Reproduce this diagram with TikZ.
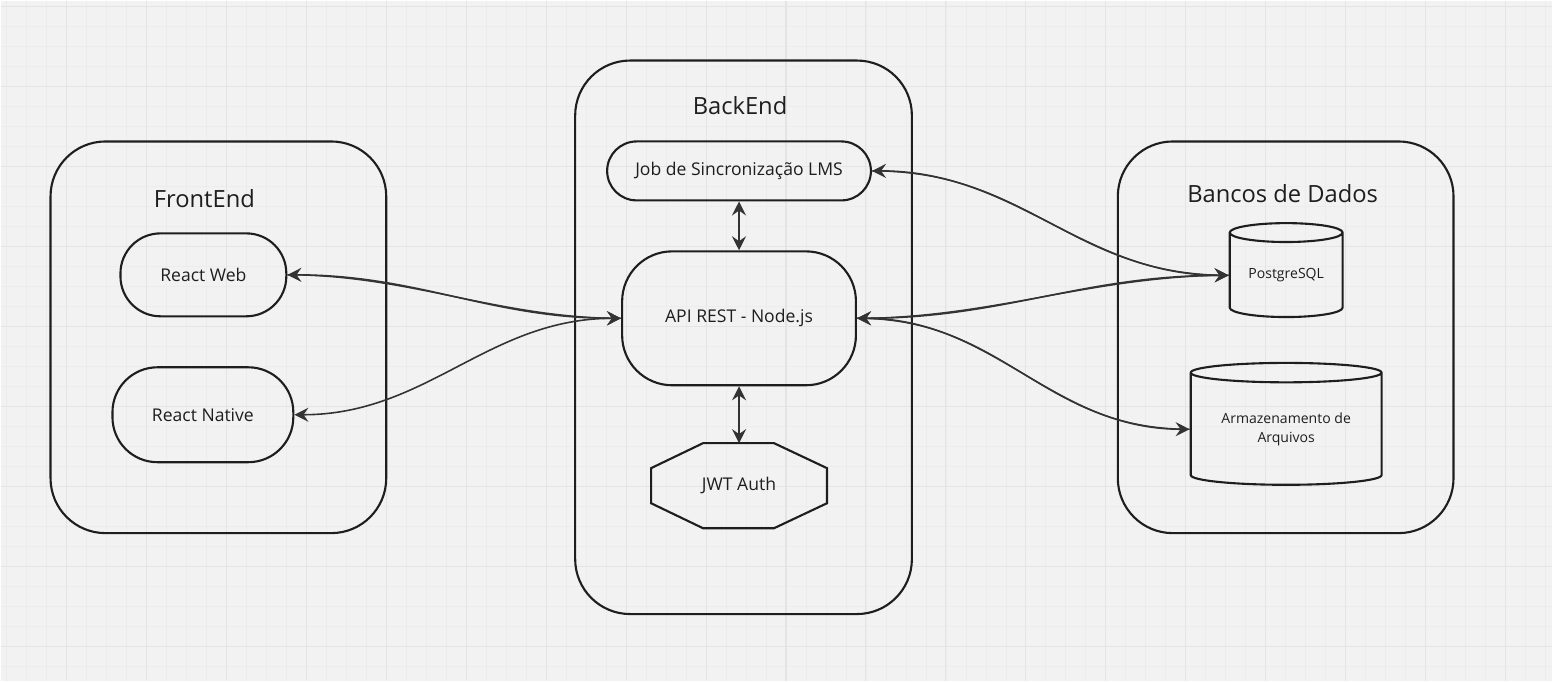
\documentclass[tikz,border=0pt]{standalone}
\usepackage{fontspec}
\setmainfont{Open Sans}
\usetikzlibrary{arrows.meta,shapes.geometric,calc}
\definecolor{paper}{HTML}{F2F2F2}
\definecolor{gridminor}{HTML}{ECECEC}
\definecolor{gridmajor}{HTML}{E4E4E4}
\definecolor{ink}{HTML}{1E1E1E}
\definecolor{wire}{HTML}{333333}
\tikzset{
  groupbox/.style={draw=ink,line width=1.2pt,rounded corners=1.1cm,minimum width=6.72cm,minimum height=7.84cm},
  grouptitle/.style={font=\fontsize{13.5}{16}\selectfont,text=ink},
  pill/.style={draw=ink,line width=1.2pt,font=\fontsize{10}{12}\selectfont,text=ink,inner sep=0pt},
  dbcyl/.style={draw=ink,line width=1.2pt,cylinder,shape border rotate=90,font=\fontsize{8}{11}\selectfont,text=ink,align=center,inner sep=0pt},
  link/.style={draw=wire,line width=0.9pt,{Stealth[length=8pt,width=8pt,inset=2.8pt]}-{Stealth[length=8pt,width=8pt,inset=2.8pt]}},
  link2/.style={draw=wire,line width=0.75pt}
}
\begin{document}
\begin{tikzpicture}[x=0.02cm,y=-0.02cm]
% background and grid
\fill[paper] (0,0) rectangle (1553,681);
\foreach \gx in {6,26,...,1546} \draw[gridminor,line width=0.4pt] (\gx,0) -- (\gx,681);
\foreach \gy in {6,26,...,676} \draw[gridminor,line width=0.4pt] (0,\gy) -- (1553,\gy);
\foreach \gx in {66,146,...,1546} \draw[gridmajor,line width=0.6pt] (\gx,0) -- (\gx,681);
\foreach \gy in {6,86,...,676} \draw[gridmajor,line width=0.6pt] (0,\gy) -- (1553,\gy);
\useasboundingbox (0,0) rectangle (1553,681);
% groups
\node[groupbox] (front) at (218,337) {};
\node[groupbox,minimum height=11.08cm,minimum width=6.74cm] (back) at (743.5,337) {};
\node[groupbox] (db) at (1286,337) {};
\node[grouptitle] (fronttitle) at (204,198) {FrontEnd};
\node[grouptitle] (backtitle) at (740,105) {BackEnd};
\node[grouptitle] (dbtitle) at (1283,193) {Bancos de Dados};
% frontend
\node[pill,rounded corners=0.8cm,minimum width=3.32cm,minimum height=1.66cm] (web) at (203,274.5) {React Web};
\node[pill,rounded corners=0.9cm,minimum width=3.62cm,minimum height=1.9cm] (native) at (202.5,414.5) {React Native};
% backend
\node[pill,rounded corners=0.59cm,minimum width=5.28cm,minimum height=1.18cm] (job) at (739,170.5) {Job de Sincronização LMS};
\node[pill,rounded corners=1.0cm,minimum width=4.68cm,minimum height=2.68cm] (api) at (739,318) {API REST - Node.js};
\node[pill,draw=none,minimum width=3.48cm,minimum height=1.66cm] (jwt) at (739,485.5) {JWT Auth};
\draw[ink,line width=1.2pt] ($(jwt.north west)+(52,0)$) -- ($(jwt.north east)+(-53,0)$)
  -- ($(jwt.north east)+(0,25)$) -- ($(jwt.south east)+(0,-25)$)
  -- ($(jwt.south east)+(-53,0)$) -- ($(jwt.south west)+(52,0)$)
  -- ($(jwt.south west)+(0,-25)$) -- ($(jwt.north west)+(0,25)$) -- cycle;
% databases
\node[dbcyl,aspect=0.25,minimum width=2.26cm,minimum height=1.88cm] (pg) at (1286.5,275) {PostgreSQL};
\node[dbcyl,aspect=0.15,minimum width=3.82cm,minimum height=2.44cm] (files) at (1286.5,429) {Armazenamento de\\Arquivos};
% links
\draw[link] (job) -- (api);
\draw[link] (api) -- (jwt);
\draw[link] (web.east) to[out=0,in=180] (api.west);
\draw[link2] (web.east) to[out=0,in=180,looseness=0.92] (api.west);
\draw[link] (native.east) to[out=0,in=180] (api.west);
\draw[link] (job.east) to[out=0,in=180] (pg.west);
\draw[link2] (job.east) to[out=0,in=180,looseness=1.1] (pg.west);
\draw[link] (api.east) to[out=0,in=180] (pg.west);
\draw[link2] (api.east) to[out=0,in=180,looseness=0.92] (pg.west);
\draw[link] (api.east) to[out=0,in=180] (files.west);
\draw[link2] (api.east) to[out=0,in=180,looseness=1.1] (files.west);
\end{tikzpicture}
\end{document}
